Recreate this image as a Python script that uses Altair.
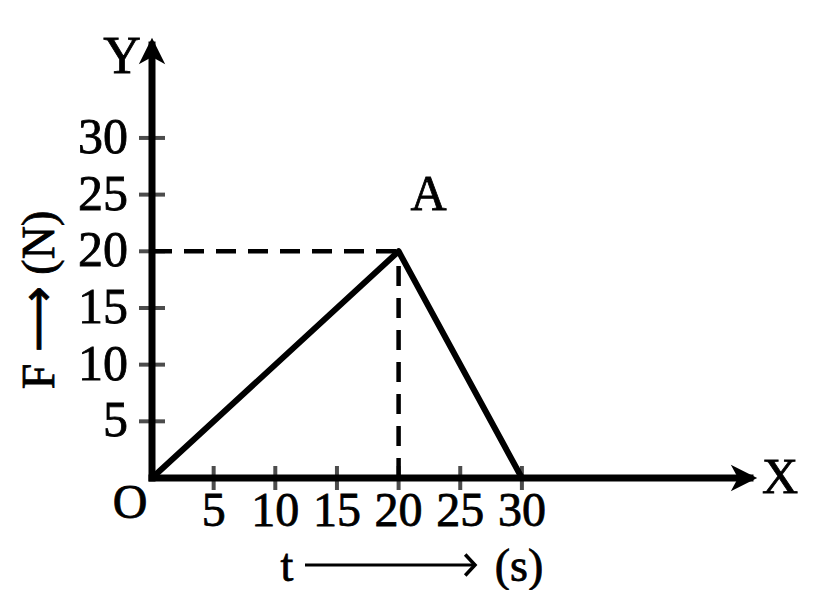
import altair as alt
import pandas as pd

# ---- data ----
t_values = [0, 20, 30]          # s
F_values = [0, 20, 0]           # N
peak_t = 20
peak_F = 20
x_ticks = [5, 10, 15, 20, 25, 30]
y_ticks = [5, 10, 15, 20, 25, 30]
x_axis_end = 48.5
y_axis_end = 38.2

W, H = 598, 433
SERIF = "Liberation Serif"
WEIGHT = "normal"

xs = alt.Scale(domain=[0, x_axis_end], nice=False, zero=False)
ys = alt.Scale(domain=[0, y_axis_end], nice=False, zero=False)

def X(f="x"):
    return alt.X(f"{f}:Q", scale=xs, axis=None)

def Y(f="y"):
    return alt.Y(f"{f}:Q", scale=ys, axis=None)

line_df = pd.DataFrame({"x": t_values, "y": F_values})
line = alt.Chart(line_df).mark_line(color="black", strokeWidth=6, strokeJoin="round").encode(
    x=X(), y=Y(), order="x:Q")

dash_df = pd.DataFrame({
    "x": [0, peak_t], "x2": [peak_t, peak_t],
    "y": [peak_F, 0], "y2": [peak_F, peak_F]})
dashes = alt.Chart(dash_df).mark_rule(color="black", strokeWidth=4.5, strokeDash=[20, 12]).encode(
    x=X(), x2="x2:Q", y=Y(), y2="y2:Q")

axes_df = pd.DataFrame({"x": [0, 0], "x2": [x_axis_end, 0], "y": [0, 0], "y2": [0, y_axis_end]})
axes = alt.Chart(axes_df).mark_rule(color="black", strokeWidth=7, strokeCap="square").encode(
    x=X(), x2="x2:Q", y=Y(), y2="y2:Q")

up_arrow = alt.Chart(pd.DataFrame({"x": [0], "y": [y_axis_end]})).mark_point(
    shape="M0,-0.6 L-1.1,1.6 L0,1.0 L1.1,1.6 Z", filled=True, color="black", opacity=1, size=576
).encode(x=X(), y=Y())
right_arrow = alt.Chart(pd.DataFrame({"x": [x_axis_end], "y": [0]})).mark_point(
    shape="M0.6,0 L-1.6,-1.1 L-1.0,0 L-1.6,1.1 Z", filled=True, color="black", opacity=1, size=576
).encode(x=X(), y=Y())

xt_df = pd.DataFrame({"x": x_ticks, "y": [0] * len(x_ticks), "label": [str(v) for v in x_ticks]})
yt_df = pd.DataFrame({"y": y_ticks, "x": [0] * len(y_ticks), "label": [str(v) for v in y_ticks]})

xticks = alt.Chart(xt_df).mark_tick(color="black", orient="vertical", size=24, thickness=4).encode(
    x=X(), y=Y())
yticks = alt.Chart(yt_df).mark_tick(color="black", orient="horizontal", size=26, thickness=4).encode(
    x=X(), y=Y())

xlabels = alt.Chart(xt_df).mark_text(font=SERIF, fontSize=48, fontWeight=WEIGHT, dy=34, align="center",
                                     baseline="middle", color="black", stroke="black", strokeWidth=0.8).encode(
    x=X(), y=Y(), text="label:N")
ylabels = alt.Chart(yt_df).mark_text(font=SERIF, fontSize=50, fontWeight=WEIGHT, dx=-24, align="right",
                                     baseline="middle", color="black", stroke="black", strokeWidth=0.8).encode(
    x=X(), y=Y(), text="label:N")

O_lab = alt.Chart(pd.DataFrame({"x": [0], "y": [0], "t": ["O"]})).mark_text(
    font=SERIF, fontSize=48, fontWeight=WEIGHT, dx=-22, dy=26, baseline="middle", color="black",
    stroke="black", strokeWidth=0.8).encode(
    x=X(), y=Y(), text="t:N")
X_lab = alt.Chart(pd.DataFrame({"x": [x_axis_end], "y": [0], "t": ["X"]})).mark_text(
    font=SERIF, fontSize=50, fontWeight=WEIGHT, dx=30, dy=0, baseline="middle", color="black",
    stroke="black", strokeWidth=0.8).encode(
    x=X(), y=Y(), text="t:N")
Y_lab = alt.Chart(pd.DataFrame({"x": [0], "y": [y_axis_end], "t": ["Y"]})).mark_text(
    font=SERIF, fontSize=52, fontWeight=WEIGHT, dx=-30, dy=12, baseline="middle", color="black",
    stroke="black", strokeWidth=0.8).encode(
    x=X(), y=Y(), text="t:N")
A_lab = alt.Chart(pd.DataFrame({"x": [peak_t], "y": [peak_F], "t": ["A"]})).mark_text(
    font=SERIF, fontSize=50, fontWeight=WEIGHT, dx=30, dy=-56, baseline="middle", color="black",
    stroke="black", strokeWidth=0.8).encode(
    x=X(), y=Y(), text="t:N")

# axis titles (annotations)
ytitle = alt.Chart(pd.DataFrame({"t": ["F ⟶ (N)"]})).mark_text(
    font=SERIF, fontSize=46, fontWeight=WEIGHT, angle=270, align="center", baseline="middle",
    color="black", stroke="black", strokeWidth=0.8).encode(
    x=alt.value(-112), y=alt.value(255), text="t:N")
xt_t = alt.Chart(pd.DataFrame({"t": ["t"]})).mark_text(
    font=SERIF, fontSize=46, fontWeight=WEIGHT, align="center", baseline="middle", color="black",
    stroke="black", strokeWidth=0.8).encode(
    x=alt.value(135), y=alt.value(522), text="t:N")
xt_s = alt.Chart(pd.DataFrame({"t": ["(s)"]})).mark_text(
    font=SERIF, fontSize=46, fontWeight=WEIGHT, align="center", baseline="middle", color="black",
    stroke="black", strokeWidth=0.8).encode(
    x=alt.value(367), y=alt.value(522), text="t:N")
xt_shaft = alt.Chart(pd.DataFrame({"a": [0]})).mark_rule(color="black", strokeWidth=3).encode(
    x=alt.value(153), x2=alt.value(322), y=alt.value(520))
xt_head = alt.Chart(pd.DataFrame({"a": [0]})).mark_point(
    shape="M-1.4,-1.5 L0,0 L-1.4,1.5", filled=False, color="black", opacity=1,
    strokeWidth=3.5, size=196).encode(x=alt.value(323), y=alt.value(520))

chart = alt.layer(
    dashes, line, axes, up_arrow, right_arrow, xticks, yticks, xlabels, ylabels,
    O_lab, X_lab, Y_lab, A_lab, ytitle, xt_t, xt_s, xt_shaft, xt_head
).properties(
    width=W, height=H, autosize="none",
    padding={"left": 144, "top": 37, "right": 60, "bottom": 112},
    background="white"
).configure_view(stroke=None)

chart.save("out.html", embed_options={"renderer": "svg", "actions": False})
